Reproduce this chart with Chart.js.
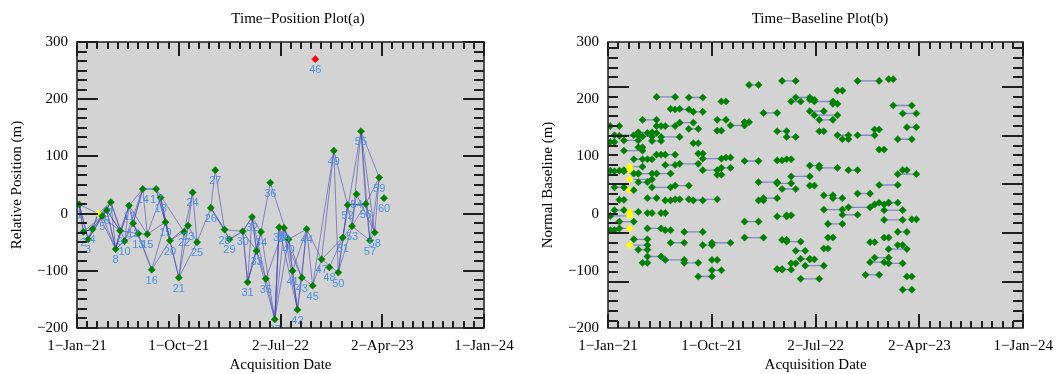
<!DOCTYPE html>
<html>
<head>
<meta charset="utf-8">
<script src="https://cdn.jsdelivr.net/npm/chart.js@4/dist/chart.umd.min.js"></script>
<style>
  body { margin: 0; background: #fff; }
  #wrap { position: relative; width: 1062px; height: 374px; }
  .panel { position: absolute; top: 0; width: 531px; height: 374px; }
</style>
</head>
<body>
<div id="wrap">
  <div class="panel" style="left:0"><canvas id="posChart" width="531" height="374"></canvas></div>
  <div class="panel" style="left:531px"><canvas id="baseChart" width="531" height="374"></canvas></div>
</div>
<script>
// acquisition 0 is the reference scene (yellow), 1..60 are the numbered ones
const acqDates = [
  '2021-02-27',
  '2021-01-07', '2021-01-18', '2021-01-31', '2021-02-12', '2021-03-10', '2021-03-22', '2021-04-02', '2021-04-15', '2021-04-27', '2021-05-09',
  '2021-05-21', '2021-06-01', '2021-06-15', '2021-06-27', '2021-07-09', '2021-07-21', '2021-08-02', '2021-08-14', '2021-08-27', '2021-09-08',
  '2021-10-02', '2021-10-16', '2021-10-27', '2021-11-08', '2021-11-20', '2021-12-27', '2022-01-08', '2022-02-02', '2022-02-15', '2022-03-23',
  '2022-04-05', '2022-04-17', '2022-04-29', '2022-05-11', '2022-05-24', '2022-06-05', '2022-06-17', '2022-06-29', '2022-07-12', '2022-07-24',
  '2022-08-04', '2022-08-17', '2022-08-29', '2022-09-11', '2022-09-27', '2022-10-04', '2022-10-21', '2022-11-11', '2022-11-23', '2022-12-05',
  '2022-12-17', '2022-12-30', '2023-01-11', '2023-01-23', '2023-02-04', '2023-02-17', '2023-02-28', '2023-03-13', '2023-03-25', '2023-04-07'
];
const acqPositions = [
  0,
  16, -32, -45, -27, -4, 6, 20, -62, -30, -48,
  14, -17, -35, 43, -36, -98, 43, 28, -15, -47,
  -112, -32, -21, 37, -50, 10, 76, -28, -45, -31,
  -120, -6, -65, -32, -114, 54, -185, -24, -25, -45,
  -100, -168, -112, -27, -126, 270, -80, -94, 110, -103,
  -42, 15, -22, 34, 144, 17, -47, -33, 63, 27
];
const acqLabels = [''].concat(Array.from({ length: 60 }, (_, i) => String(i + 1)));
const outlierAcq = 46;

// interferometric pairs: [first acquisition, second acquisition, normal baseline (m)]
const pairs = [
  [10, 14, 204], [17, 20, 203], [23, 24, 196], [13, 15, 183], [14, 17, 182], [18, 20, 178],
  [7, 10, 164], [22, 24, 164], [15, 18, 159], [1, 3, 153], [10, 12, 153], [11, 14, 153], [25, 26, 154],
  [17, 19, 148], [22, 23, 145], [6, 9, 142], [8, 10, 141], [3, 6, 136], [2, 5, 137], [11, 15, 134], [7, 9, 135],
  [4, 6, 128], [9, 11, 127], [1, 2, 125], [18, 19, 123], [4, 7, 110], [6, 7, 116], [10, 11, 103], [12, 14, 103],
  [19, 20, 105], [20, 23, 96], [24, 25, 98], [5, 7, 95], [8, 9, 95], [12, 14, 85], [15, 19, 87], [23, 25, 80],
  [0, 7, 82], [4, 0, 76], [1, 3, 75], [2, 4, 74], [20, 22, 76], [5, 6, 70], [6, 9, 70], [10, 13, 70], [22, 23, 68],
  [0, 9, 60], [6, 8, 55], [14, 17, 49], [9, 13, 46], [2, 4, 46], [0, 5, 41],
  [8, 10, 27], [3, 4, 24], [12, 13, 23], [14, 15, 25], [18, 20, 23], [17, 22, 25],
  [2, 4, 6], [0, 6, 3], [8, 9, 1], [11, 12, 1], [1, 0, -4], [3, 5, -14], [1, 2, -29], [3, 0, -26], [8, 11, -26], [12, 13, -29],
  [16, 20, -32], [5, 8, -45], [13, 16, -51], [20, 21, -55], [21, 25, -51], [0, 8, -55], [6, 8, -63], [8, 11, -75],
  [12, 16, -81], [21, 22, -81], [7, 8, -86], [16, 19, -86], [21, 23, -99], [19, 21, -110],
  [31, 34, 232], [47, 51, 232], [53, 54, 235], [27, 28, 225], [43, 44, 215], [34, 37, 203], [37, 38, 199],
  [33, 35, 196], [38, 42, 196], [42, 43, 192], [54, 58, 189], [37, 40, 179], [29, 30, 176], [56, 59, 175], [38, 43, 172],
  [39, 42, 164], [26, 27, 160], [57, 59, 151], [50, 51, 147], [30, 32, 144], [39, 40, 144], [43, 45, 137], [47, 50, 137],
  [32, 34, 134], [44, 45, 130], [55, 58, 130], [51, 52, 112],
  [26, 28, 92], [30, 31, 93], [32, 33, 95], [37, 39, 84], [39, 43, 80], [45, 47, 76], [56, 57, 76], [55, 59, 69], [33, 37, 65],
  [28, 30, 55], [30, 33, 53], [51, 55, 50], [37, 38, 49], [31, 34, 43], [47, 49, 35], [40, 42, 32], [42, 44, 27],
  [28, 29, 23], [29, 30, 27], [50, 52, 16], [51, 53, 19], [53, 55, 19], [45, 49, 11], [40, 44, 7], [52, 56, 6],
  [44, 47, -2], [30, 32, -5], [32, 33, -3], [58, 59, -10], [52, 56, -11], [26, 28, -14], [41, 44, -18],
  [55, 57, -32], [26, 29, -42], [41, 42, -42], [52, 53, -42], [31, 32, -46], [32, 35, -49], [49, 50, -50],
  [55, 56, -55], [40, 41, -61], [53, 57, -62], [34, 36, -65], [50, 53, -77], [35, 37, -79], [37, 38, -80],
  [49, 52, -85], [33, 34, -87], [53, 56, -87], [36, 40, -91], [30, 31, -97], [31, 33, -98], [48, 51, -107], [57, 58, -110],
  [35, 39, -114], [56, 58, -133]
];

const dateTickLabels = ['1\u2212Jan\u221221', '1\u2212Oct\u221221', '2\u2212Jul\u221222', '2\u2212Apr\u221223', '1\u2212Jan\u221224'];
const axisStart = '2021-01-01';
const axisEnd = '2024-01-01';

const DAY = 86400000;
const dayOf = d => (Date.parse(d) - Date.parse(axisStart)) / DAY;
const spanDays = dayOf(axisEnd);
const xMajor = dateTickLabels.map((_, i) => i * spanDays / (dateTickLabels.length - 1));

// tick mark values (major = long mark)
const xMarks = [];
for (let k = 0; k <= 10 * (xMajor.length - 1); k++) xMarks.push({ v: k * spanDays / (10 * (xMajor.length - 1)), major: k % 10 === 0 });
function yMarks(anchor, step, every) {
  const out = [];
  for (let k = Math.ceil((-200 - anchor) / step - 1e-6); k <= Math.floor((300 - anchor) / step + 1e-6); k++) {
    out.push({ v: anchor + k * step, major: ((k % every) + every) % every === 0 });
  }
  return out;
}

const serif = 'Liberation Serif, Times New Roman, serif';
const gray = '#d3d3d3';

// grey plot background
const plotBg = {
  id: 'plotBg',
  beforeDatasetsDraw(chart) {
    const { ctx, chartArea: a } = chart;
    ctx.save();
    ctx.fillStyle = gray;
    ctx.fillRect(a.left, a.top, a.right - a.left, a.bottom - a.top);
    ctx.restore();
  }
};

// box round the plot with inward ticks on all four sides
function makeBoxTicks(ySet) {
  return {
    id: 'boxTicks',
    afterDraw(chart) {
      const { ctx, chartArea: a } = chart;
      const sx = chart.scales.x, sy = chart.scales.y;
      const l = Math.round(a.left), r = Math.round(a.right);
      const t = Math.round(a.top), b = Math.round(a.bottom);
      ctx.save();
      ctx.strokeStyle = '#1e1e1e';
      ctx.lineWidth = 1.5;
      ctx.strokeRect(l, t, r - l, b - t);
      ctx.lineWidth = 2;
      ctx.beginPath();
      xMarks.forEach(m => {
        const px = Math.round(sx.getPixelForValue(m.v));
        const len = m.major ? 14 : 7;
        ctx.moveTo(px, b); ctx.lineTo(px, b - len);
        ctx.moveTo(px, t); ctx.lineTo(px, t + len);
      });
      ySet.forEach(m => {
        const py = Math.round(sy.getPixelForValue(m.v));
        const len = m.major ? 21 : 10;
        ctx.moveTo(l, py); ctx.lineTo(l + len, py);
        ctx.moveTo(r, py); ctx.lineTo(r - len, py);
      });
      ctx.stroke();
      ctx.restore();
    }
  };
}

// plot title above the box
function makeTitle(text, cx) {
  return {
    id: 'plotTitle',
    afterDraw(chart) {
      const { ctx } = chart;
      ctx.save();
      ctx.font = '15px ' + serif;
      ctx.fillStyle = '#000';
      ctx.textAlign = 'center';
      ctx.textBaseline = 'middle';
      ctx.fillText(text, cx, 19);
      ctx.restore();
    }
  };
}

// acquisition numbers under the points
const pointNumbers = {
  id: 'pointNumbers',
  afterDatasetsDraw(chart) {
    const { ctx, chartArea: a } = chart;
    const meta = chart.getDatasetMeta(0);
    ctx.save();
    ctx.beginPath();
    ctx.rect(a.left, a.top, a.right - a.left, a.bottom - a.top);
    ctx.clip();
    ctx.font = '11px Liberation Sans, Arial, sans-serif';
    ctx.fillStyle = '#4a90e2';
    ctx.textAlign = 'center';
    ctx.textBaseline = 'middle';
    meta.data.forEach((pt, i) => {
      if (acqLabels[i]) ctx.fillText(acqLabels[i], pt.x, pt.y + 11);
    });
    ctx.restore();
  }
};

function axes(yTitle) {
  return {
    x: {
      type: 'linear', min: 0, max: spanDays,
      grid: { display: false, drawTicks: false },
      border: { display: false },
      afterBuildTicks: s => { s.ticks = xMajor.map(v => ({ value: v })); },
      afterFit: s => { s.height = 46; },
      ticks: {
        autoSkip: false, maxRotation: 0, padding: 9,
        font: { family: serif, size: 15 }, color: '#000',
        callback: (v, i) => dateTickLabels[i]
      },
      title: { display: true, text: 'Acquisition Date', font: { family: serif, size: 15 }, color: '#000', padding: { top: 0, bottom: 0 } }
    },
    y: {
      type: 'linear', min: -200, max: 300,
      grid: { display: false, drawTicks: false },
      border: { display: false },
      afterFit: s => { s.width = 77; },
      ticks: {
        stepSize: 100, padding: 9,
        font: { family: serif, size: 15 }, color: '#000',
        callback: v => (v < 0 ? '\u2212' + Math.abs(v) : String(v))
      },
      title: { display: true, text: yTitle, font: { family: serif, size: 15 }, color: '#000', padding: { top: 8, bottom: 0 } }
    }
  };
}

const baseOptions = {
  responsive: false,
  animation: false,
  devicePixelRatio: 1,
  events: [],
  plugins: { legend: { display: false }, tooltip: { enabled: false }, title: { display: false } }
};

// ---- left: time-position network ----
const acqPoints = acqDates.map((d, i) => ({ x: dayOf(d), y: acqPositions[i] }));
const acqColors = acqDates.map((d, i) => (i === 0 ? '#ffff00' : i === outlierAcq ? '#ff0000' : '#008000'));

const networkLine = [];
pairs.forEach(([a, b]) => {
  networkLine.push(acqPoints[a], acqPoints[b], { x: acqPoints[b].x, y: null });
});

new Chart(document.getElementById('posChart'), {
  type: 'scatter',
  data: {
    datasets: [
      {
        data: acqPoints, order: 0,
        pointStyle: 'rectRot', pointRadius: 3.6,
        pointBackgroundColor: acqColors, pointBorderColor: acqColors, pointBorderWidth: 0.5
      },
      {
        type: 'line', data: networkLine, order: 1,
        showLine: true, spanGaps: false, pointRadius: 0,
        borderColor: 'rgba(60, 60, 180, 0.55)', borderWidth: 1
      }
    ]
  },
  options: Object.assign({}, baseOptions, {
    layout: { padding: { top: 42, right: 47, bottom: 0, left: 0 } },
    scales: axes('Relative Position (m)')
  }),
  plugins: [plotBg, pointNumbers, makeBoxTicks(yMarks(0, 100 / 6, 6)), makeTitle('Time\u2212Position Plot(a)', 298)]
});

// ---- right: time-baseline pairs ----
const baselineSegs = [];
const baselineEnds = [];
const baselineColors = [];
pairs.forEach(([a, b, bn]) => {
  const xa = dayOf(acqDates[a]), xb = dayOf(acqDates[b]);
  baselineSegs.push({ x: xa, y: bn }, { x: xb, y: bn }, { x: xb, y: null });
  baselineEnds.push({ x: xa, y: bn }, { x: xb, y: bn });
  baselineColors.push(a === 0 ? '#ffff00' : '#008000', b === 0 ? '#ffff00' : '#008000');
});

new Chart(document.getElementById('baseChart'), {
  type: 'scatter',
  data: {
    datasets: [
      {
        data: baselineEnds, order: 0,
        pointStyle: 'rectRot', pointRadius: 3.6,
        pointBackgroundColor: baselineColors, pointBorderColor: baselineColors, pointBorderWidth: 0.5
      },
      {
        type: 'line', data: baselineSegs, order: 1,
        showLine: true, spanGaps: false, pointRadius: 0,
        borderColor: 'rgba(100, 100, 200, 0.7)', borderWidth: 1.3
      }
    ]
  },
  options: Object.assign({}, baseOptions, {
    layout: { padding: { top: 42, right: 38, bottom: 0, left: 0 } },
    scales: axes('Normal Baseline (m)')
  }),
  plugins: [plotBg, makeBoxTicks(yMarks(221, 17, 5)), makeTitle('Time\u2212Baseline Plot(b)', 289)]
});
</script>
</body>
</html>
